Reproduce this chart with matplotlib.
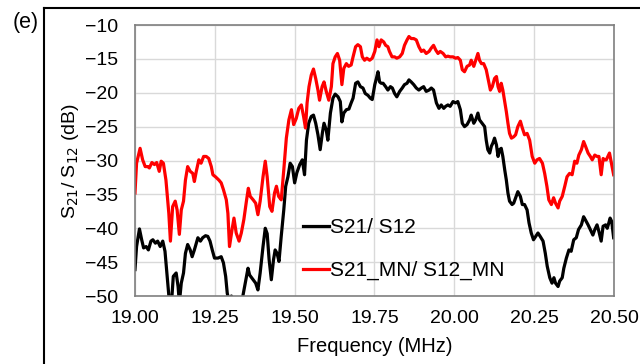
import matplotlib
matplotlib.use("Agg")
import matplotlib.pyplot as plt
from matplotlib.lines import Line2D

plt.rcParams['font.family'] = ['Liberation Sans', 'DejaVu Sans']

# S21/S12 (matched network) - red
freq_mn = [19.000, 19.005, 19.016, 19.024, 19.032, 19.040, 19.045, 19.053, 19.061, 19.068,
           19.076, 19.082, 19.089, 19.097, 19.106, 19.111, 19.118, 19.126, 19.132, 19.139,
           19.145, 19.152, 19.158, 19.165, 19.173, 19.181, 19.186, 19.192, 19.200, 19.207,
           19.215, 19.223, 19.231, 19.239, 19.244, 19.252, 19.263, 19.270, 19.277, 19.286,
           19.291, 19.296, 19.304, 19.310, 19.317, 19.326, 19.333, 19.341, 19.349, 19.355,
           19.361, 19.370, 19.378, 19.385, 19.392, 19.401, 19.408, 19.414, 19.422, 19.429,
           19.437, 19.443, 19.450, 19.458, 19.466, 19.474, 19.482, 19.490, 19.497, 19.505,
           19.513, 19.521, 19.528, 19.534, 19.539, 19.545, 19.552, 19.559, 19.566, 19.573,
           19.578, 19.586, 19.592, 19.599, 19.607, 19.615, 19.620, 19.627, 19.634, 19.641,
           19.648, 19.654, 19.662, 19.669, 19.677, 19.683, 19.691, 19.698, 19.706, 19.712,
           19.719, 19.726, 19.735, 19.743, 19.751, 19.758, 19.764, 19.771, 19.779, 19.785,
           19.792, 19.797, 19.805, 19.813, 19.820, 19.829, 19.837, 19.844, 19.852, 19.858,
           19.865, 19.873, 19.881, 19.889, 19.897, 19.904, 19.912, 19.921, 19.928, 19.935,
           19.942, 19.949, 19.956, 19.965, 19.973, 19.980, 19.987, 19.996, 20.004, 20.011,
           20.019, 20.025, 20.032, 20.040, 20.048, 20.053, 20.061, 20.067, 20.074, 20.079,
           20.085, 20.092, 20.100, 20.108, 20.113, 20.119, 20.126, 20.132, 20.137, 20.142,
           20.147, 20.152, 20.158, 20.163, 20.168, 20.173, 20.179, 20.186, 20.192, 20.199,
           20.207, 20.213, 20.220, 20.228, 20.236, 20.244, 20.252, 20.259, 20.267, 20.276,
           20.283, 20.290, 20.296, 20.304, 20.311, 20.317, 20.325, 20.330, 20.338, 20.346,
           20.353, 20.361, 20.369, 20.377, 20.384, 20.390, 20.398, 20.405, 20.411, 20.419,
           20.426, 20.432, 20.440, 20.447, 20.453, 20.460, 20.466, 20.471, 20.476, 20.481,
           20.486, 20.492, 20.499]
s21_mn = [-34.8, -30.4, -28.2, -29.9, -30.9, -30.9, -31.1, -30.3, -30.6, -30.3,
          -31.6, -30.1, -30.4, -32.9, -37.8, -41.9, -36.8, -36.0, -37.3, -40.9,
          -37.3, -36.0, -32.9, -30.9, -31.6, -31.9, -33.1, -31.6, -29.9, -30.4,
          -29.4, -29.4, -29.7, -30.9, -32.1, -32.4, -32.9, -33.3, -34.3, -35.8,
          -37.8, -42.7, -40.2, -38.5, -40.7, -41.9, -40.7, -38.7, -36.0, -34.1,
          -35.3, -35.8, -36.3, -38.0, -36.0, -32.4, -30.1, -32.4, -36.8, -37.5,
          -34.8, -33.8, -35.3, -35.8, -31.4, -26.7, -24.0, -22.5, -24.7, -23.8,
          -22.3, -21.8, -23.5, -25.2, -21.5, -19.1, -17.4, -16.5, -17.9, -19.6,
          -21.1, -19.1, -18.4, -19.8, -21.1, -19.1, -15.7, -14.7, -14.2, -15.2,
          -18.8, -16.4, -15.7, -16.1, -15.9, -14.7, -13.2, -12.9, -13.2, -14.7,
          -15.2, -14.9, -15.2, -14.9, -13.9, -12.2, -13.2, -12.2, -12.5, -13.0,
          -13.2, -13.9, -14.7, -14.7, -14.9, -14.7, -14.2, -13.0, -12.2, -11.7,
          -12.0, -12.0, -12.2, -13.2, -13.9, -13.7, -14.2, -13.9, -13.4, -13.0,
          -13.7, -14.2, -13.9, -14.2, -14.7, -14.6, -14.7, -14.7, -14.9, -14.8,
          -15.2, -16.6, -16.9, -16.1, -15.9, -15.2, -16.1, -15.2, -14.2, -15.2,
          -15.7, -15.7, -16.6, -18.4, -19.6, -19.1, -17.9, -17.6, -19.1, -19.8,
          -18.6, -19.6, -21.3, -22.8, -24.5, -26.0, -26.7, -26.5, -26.2, -25.0,
          -24.2, -25.2, -26.2, -26.0, -27.0, -29.4, -30.4, -29.9, -29.7, -30.4,
          -31.9, -33.8, -35.8, -36.5, -35.5, -36.3, -37.0, -36.0, -35.3, -33.8,
          -32.4, -31.9, -32.1, -30.1, -30.4, -29.2, -28.4, -27.2, -27.9, -28.9,
          -29.4, -29.9, -29.2, -29.4, -29.4, -32.1, -29.7, -29.9, -29.9, -29.4,
          -28.9, -30.4, -32.1]

# S21/S12 - black
freq = [19.000, 19.005, 19.014, 19.021, 19.027, 19.035, 19.042, 19.050, 19.056, 19.064,
        19.071, 19.079, 19.087, 19.094, 19.100, 19.108, 19.113, 19.120, 19.129, 19.135,
        19.139, 19.145, 19.152, 19.158, 19.165, 19.173, 19.179, 19.186, 19.197, 19.205,
        19.212, 19.221, 19.228, 19.235, 19.242, 19.249, 19.260, 19.270, 19.277, 19.284,
        19.289, 19.296, 19.302, 19.310, 19.330, 19.354, 19.359, 19.370, 19.378, 19.385,
        19.392, 19.401, 19.408, 19.414, 19.420, 19.427, 19.434, 19.439, 19.445, 19.451,
        19.458, 19.466, 19.472, 19.479, 19.486, 19.493, 19.500, 19.507, 19.516, 19.524,
        19.531, 19.537, 19.544, 19.552, 19.559, 19.566, 19.573, 19.580, 19.587, 19.592,
        19.599, 19.604, 19.612, 19.620, 19.627, 19.636, 19.643, 19.648, 19.654, 19.662,
        19.670, 19.677, 19.683, 19.691, 19.698, 19.706, 19.714, 19.721, 19.730, 19.737,
        19.743, 19.751, 19.756, 19.761, 19.766, 19.771, 19.777, 19.785, 19.792, 19.800,
        19.806, 19.813, 19.820, 19.829, 19.837, 19.844, 19.852, 19.858, 19.865, 19.873,
        19.881, 19.889, 19.897, 19.904, 19.912, 19.921, 19.928, 19.935, 19.944, 19.952,
        19.959, 19.967, 19.973, 19.980, 19.987, 19.996, 20.004, 20.011, 20.019, 20.025,
        20.032, 20.040, 20.048, 20.053, 20.061, 20.067, 20.074, 20.079, 20.087, 20.095,
        20.100, 20.105, 20.111, 20.116, 20.121, 20.126, 20.132, 20.137, 20.142, 20.147,
        20.152, 20.158, 20.163, 20.168, 20.173, 20.181, 20.186, 20.192, 20.199, 20.207,
        20.213, 20.220, 20.228, 20.234, 20.241, 20.248, 20.255, 20.262, 20.269, 20.278,
        20.285, 20.291, 20.299, 20.306, 20.312, 20.317, 20.325, 20.330, 20.338, 20.343,
        20.351, 20.359, 20.366, 20.374, 20.382, 20.389, 20.398, 20.405, 20.411, 20.419,
        20.426, 20.434, 20.440, 20.447, 20.453, 20.460, 20.466, 20.474, 20.479, 20.484,
        20.488, 20.493, 20.499]
s21 = [-46.1, -42.7, -40.1, -41.7, -42.9, -42.7, -43.2, -41.9, -41.7, -42.2,
       -41.9, -42.7, -41.9, -43.4, -46.6, -51.0, -52.0, -47.1, -46.6, -48.6,
       -51.0, -48.1, -46.6, -43.7, -42.4, -43.2, -44.2, -43.2, -41.4, -41.9,
       -41.4, -41.1, -41.2, -41.9, -43.2, -44.4, -44.4, -44.2, -45.1, -47.1,
       -49.6, -51.0, -50.0, -51.5, -52.0, -45.9, -46.9, -47.6, -48.1, -49.1,
       -46.6, -42.7, -40.0, -40.8, -44.6, -47.6, -44.6, -43.2, -43.7, -44.9,
       -41.2, -37.3, -33.8, -32.4, -30.4, -30.9, -33.3, -31.8, -30.6, -29.9,
       -32.1, -27.0, -24.5, -23.5, -23.3, -24.5, -26.2, -28.4, -25.9, -24.5,
       -25.5, -27.0, -23.0, -20.8, -20.2, -20.6, -21.3, -24.3, -23.0, -22.5,
       -22.4, -21.5, -20.8, -18.6, -18.4, -19.1, -19.3, -20.1, -20.4, -20.8,
       -21.0, -18.8, -17.9, -16.9, -18.4, -18.6, -18.6, -19.1, -19.6, -19.1,
       -19.3, -20.1, -20.6, -19.8, -19.3, -18.8, -18.6, -18.1, -18.4, -18.8,
       -19.3, -19.6, -19.3, -19.1, -19.8, -19.6, -19.3, -19.6, -21.5, -22.3,
       -21.8, -22.3, -22.0, -21.8, -22.0, -21.3, -21.5, -21.3, -22.5, -24.5,
       -25.0, -24.7, -24.0, -23.3, -24.5, -24.0, -23.0, -24.0, -24.5, -25.0,
       -27.0, -28.4, -28.9, -27.9, -27.4, -26.7, -27.7, -29.4, -28.4, -28.2,
       -29.4, -31.4, -32.9, -34.8, -36.0, -36.5, -36.3, -35.5, -34.6, -35.3,
       -36.5, -36.5, -37.3, -39.2, -40.7, -41.7, -41.2, -40.7, -41.2, -41.9,
       -43.7, -45.6, -47.3, -48.1, -47.3, -48.1, -48.6, -47.8, -47.3, -45.9,
       -44.4, -43.2, -43.4, -41.7, -41.4, -40.2, -39.5, -38.3, -38.8, -39.5,
       -40.2, -41.0, -40.2, -39.5, -40.5, -41.9, -39.7, -39.5, -40.0, -39.2,
       -38.5, -39.0, -41.4]

xticks = [19.00, 19.25, 19.50, 19.75, 20.00, 20.25, 20.50]
yticks = [-10, -15, -20, -25, -30, -35, -40, -45, -50]

fig = plt.figure(figsize=(6.4, 3.64), dpi=100)
ax = fig.add_axes([0.2109, 0.1868, 0.7484, 0.7445])

ax.plot(freq, s21, color='black', lw=2.3, label='S21/ S12', solid_joinstyle='round')
ax.plot(freq_mn, s21_mn, color='#ff0000', lw=2.3, label='S21_MN/ S12_MN', solid_joinstyle='round')

ax.set_xlim(19.0, 20.5)
ax.set_ylim(-50, -10)
ax.set_xticks(xticks)
ax.set_xticklabels([f"{t:.2f}" for t in xticks])
ax.set_yticks(yticks)
ax.grid(True, color='#d9d9d9', lw=1.0)
ax.set_axisbelow(True)
for s in ax.spines.values():
    s.set_color('#7f7f7f')
    s.set_linewidth(1.2)
ax.tick_params(length=0, labelsize=14, colors='black')
ax.tick_params(axis='y', pad=12)
ax.tick_params(axis='x', pad=10)

ax.set_xlabel('Frequency (MHz)', fontsize=14.5, labelpad=7)
ax.set_ylabel('S$_{21}$/ S$_{12}$ (dB)', fontsize=14, labelpad=3)

leg = ax.legend(loc='lower left', bbox_to_anchor=(0.3325, 0.027), frameon=False,
                fontsize=15, handlelength=1.25, handletextpad=0.05,
                labelspacing=1.15, borderaxespad=0)

fig.text(0.02, 0.937, '(e)', fontsize=15.5, ha='left', va='center')

fig.add_artist(Line2D([44/640, 44/640], [0, 1 - 8/364], color='black', lw=1.5, transform=fig.transFigure))
fig.add_artist(Line2D([44/640, 1], [1 - 8/364, 1 - 8/364], color='black', lw=1.5, transform=fig.transFigure))

fig.savefig('out.png', dpi=100)
